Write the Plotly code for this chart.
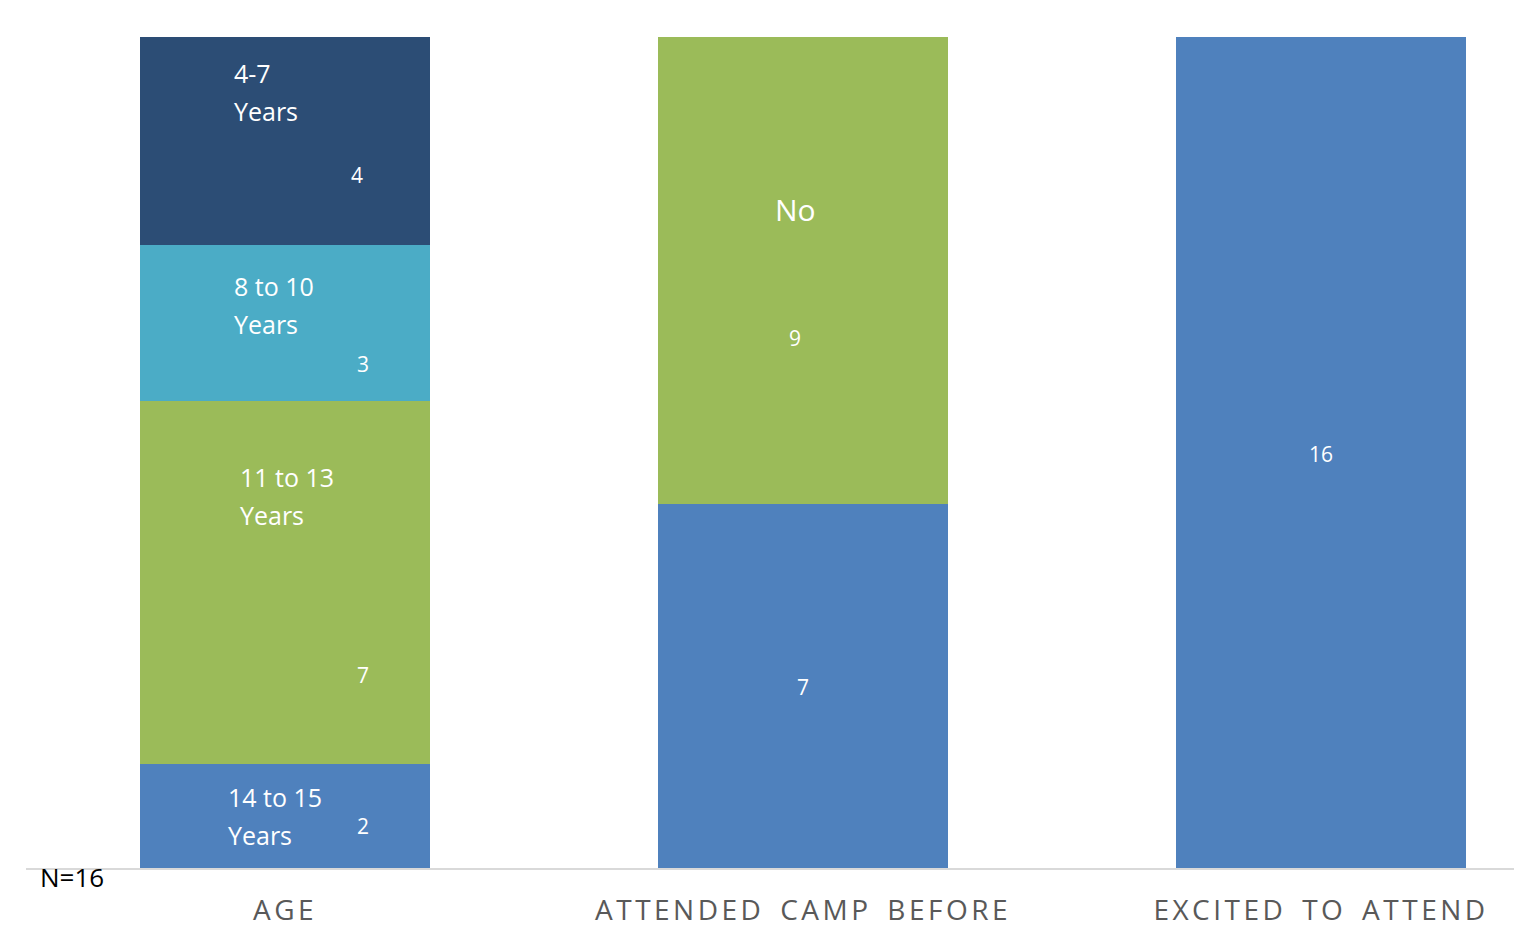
import plotly.graph_objects as go

# ---- data ----
categories = ["AGE", "ATTENDED CAMP BEFORE", "EXCITED TO ATTEND"]
age_groups = ["14 to 15 Years", "11 to 13 Years", "8 to 10 Years", "4-7 Years"]
age_counts = [2, 7, 3, 4]
camp_groups = ["Yes", "No"]
camp_counts = [7, 9]
excited_groups = ["Yes"]
excited_counts = [16]
n_total = 16

# ---- style ----
age_colors = ["#4F81BD", "#9BBB59", "#4BACC6", "#2C4D75"]
camp_colors = ["#4F81BD", "#9BBB59"]
excited_colors = ["#4F81BD"]
FONT = "Open Sans"

# label placement tweaks (pixels, relative to segment centre) - style only
age_name_lines = [["14 to 15", "Years"], ["11 to 13", "Years"], ["8 to 10", "Years"], ["4-7", "Years"]]
age_name_dx = [-59, -47, -53, -53]
age_name_dy = [19, 105, 37, 68]
age_val_dx = [78, 78, 78, 72]
age_val_dy = [-10, -93, -41, -34]
camp_name_show = [False, True]
camp_name_dx = [0, -8]
camp_name_dy = [0, 61]
camp_val_dx = [0, -8]
camp_val_dy = [-1, -67]
excited_val_dx = [0]
excited_val_dy = [-1]

BAR_W = 0.56
fig = go.Figure()
annotations = []


def add_stack(cat, groups, counts, colors):
    for g, c, col in zip(groups, counts, colors):
        fig.add_trace(go.Bar(x=[cat], y=[c], name=g, width=BAR_W,
                             marker=dict(color=col, line=dict(width=0)),
                             hoverinfo="skip", showlegend=False))


add_stack(categories[0], age_groups, age_counts, age_colors)
add_stack(categories[1], camp_groups, camp_counts, camp_colors)
add_stack(categories[2], excited_groups, excited_counts, excited_colors)


def centers(counts):
    out, base = [], 0
    for c in counts:
        out.append(base + c / 2)
        base += c
    return out


LINE_GAP = 38
# age labels
for lines, c, yc, ndx, ndy, vdx, vdy in zip(age_name_lines, age_counts, centers(age_counts),
                                           age_name_dx, age_name_dy, age_val_dx, age_val_dy):
    for i, ln in enumerate(lines):
        annotations.append(dict(x=categories[0], y=yc, xref="x", yref="y", text=ln,
                                showarrow=False, xanchor="left", yanchor="middle",
                                xshift=ndx, yshift=ndy - i * LINE_GAP,
                                font=dict(family=FONT, size=25, color="white")))
    annotations.append(dict(x=categories[0], y=yc, xref="x", yref="y", text=str(c),
                            showarrow=False, xanchor="center", yanchor="middle",
                            xshift=vdx, yshift=vdy,
                            font=dict(family=FONT, size=21, color="white")))

# camp labels
for g, c, yc, show, ndx, ndy, vdx, vdy in zip(camp_groups, camp_counts, centers(camp_counts), camp_name_show,
                                             camp_name_dx, camp_name_dy, camp_val_dx, camp_val_dy):
    if show:
        annotations.append(dict(x=categories[1], y=yc, xref="x", yref="y", text=g,
                                showarrow=False, xanchor="center", yanchor="middle",
                                xshift=ndx, yshift=ndy,
                                font=dict(family=FONT, size=30, color="white")))
    annotations.append(dict(x=categories[1], y=yc, xref="x", yref="y", text=str(c),
                            showarrow=False, xanchor="center", yanchor="middle",
                            xshift=vdx, yshift=vdy,
                            font=dict(family=FONT, size=21, color="white")))

# excited labels
for c, yc, vdx, vdy in zip(excited_counts, centers(excited_counts), excited_val_dx, excited_val_dy):
    annotations.append(dict(x=categories[2], y=yc, xref="x", yref="y", text=str(c),
                            showarrow=False, xanchor="center", yanchor="middle",
                            xshift=vdx, yshift=vdy,
                            font=dict(family=FONT, size=21, color="white")))

annotations.append(dict(x=0.008, y=-0.011, xref="paper", yref="paper", text=f"N={n_total}",
                        showarrow=False, xanchor="left", yanchor="middle",
                        font=dict(family=FONT, size=26, color="black")))

fig.update_layout(
    barmode="stack",
    width=1514, height=919,
    margin=dict(l=18, r=0, t=29, b=59, pad=0),
    paper_bgcolor="white", plot_bgcolor="white",
    annotations=annotations,
    xaxis=dict(type="category", range=[-0.5, 2.388], showgrid=False, zeroline=False,
               showline=True, linecolor="#D9D9D9", linewidth=2,
               ticks="outside", ticklen=16, tickcolor="rgba(0,0,0,0)",
               tickfont=dict(family=FONT, size=28, color="#595959")),
    yaxis=dict(range=[0, n_total], showgrid=False, zeroline=False, showticklabels=False,
               showline=False, ticks=""),
)

spacing_js = """
document.querySelectorAll('.xtick text').forEach(function(t){
  t.setAttribute('letter-spacing','3.5px');
  t.setAttribute('word-spacing','5px');
});
"""

fig.write_html("out.html", post_script=spacing_js)
